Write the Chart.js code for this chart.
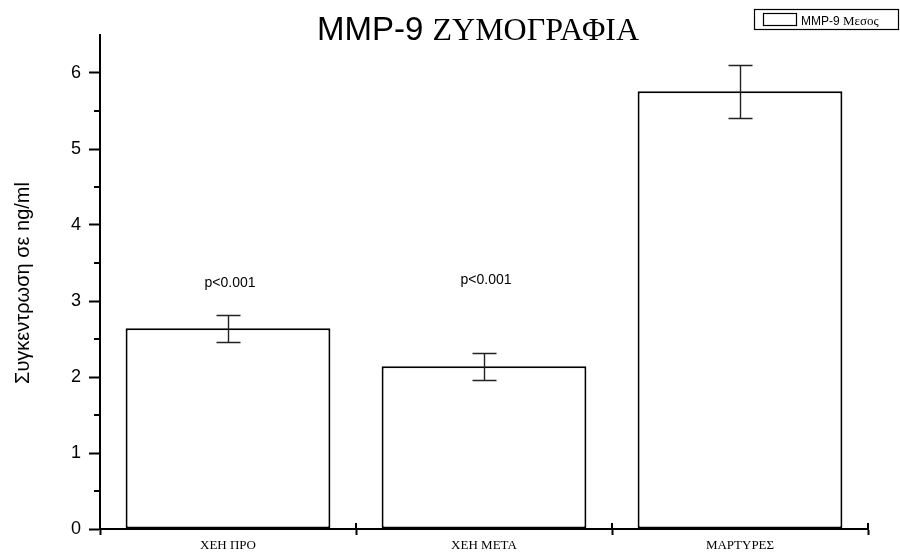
<!DOCTYPE html>
<html>
<head>
<meta charset="utf-8">
<script src="https://cdn.jsdelivr.net/npm/chart.js@4"></script>
<style>
  html, body { margin: 0; padding: 0; background: #fff; }
  #wrap { width: 900px; height: 556px; position: relative; }
</style>
</head>
<body>
<div id="wrap"><canvas id="bars"></canvas></div>
<script>
// values
const categories = ['ΧΕΗ ΠΡΟ', 'ΧΕΗ ΜΕΤΑ', 'ΜΑΡΤΥΡΕΣ'];
const means = [2.64, 2.14, 5.76];
const errors = [0.18, 0.18, 0.35];
const pLabels = ['p<0.001', 'p<0.001', ''];
const pLabelY = [3.24, 3.28, null];
const yMax = 6.5;
const yStep = 0.5;

const SANS = '"Liberation Sans", Arial, sans-serif';
const SERIF = '"Liberation Serif", "Times New Roman", serif';

// error bars, p labels, minor ticks, title, legend, y title
const extras = {
    id: 'extras',
    afterDatasetsDraw(chart) {
        const ctx = chart.ctx;
        const x = chart.scales.x, y = chart.scales.y;
        const area = chart.chartArea;
        ctx.save();

        // error bars
        ctx.strokeStyle = '#222';
        ctx.lineWidth = 1.4;
        means.forEach((m, i) => {
            const cx = Math.round(x.getPixelForValue(i)) + 0.5;
            const top = Math.round(y.getPixelForValue(m + errors[i])) + 0.5;
            const bot = Math.round(y.getPixelForValue(m - errors[i])) + 0.5;
            ctx.beginPath();
            ctx.moveTo(cx, top); ctx.lineTo(cx, bot);
            ctx.moveTo(cx - 12, top); ctx.lineTo(cx + 12, top);
            ctx.moveTo(cx - 12, bot); ctx.lineTo(cx + 12, bot);
            ctx.stroke();
        });

        // p values
        ctx.fillStyle = '#000';
        ctx.font = '14px ' + SANS;
        ctx.textAlign = 'center';
        ctx.textBaseline = 'middle';
        pLabels.forEach((t, i) => {
            if (!t) return;
            ctx.fillText(t, x.getPixelForValue(i) + 2, y.getPixelForValue(pLabelY[i]));
        });

        // minor y ticks
        ctx.strokeStyle = '#000';
        ctx.lineWidth = 2;
        ctx.beginPath();
        for (let v = yStep; v < yMax; v += 1) {
            const py = Math.round(y.getPixelForValue(v));
            ctx.moveTo(area.left - 6, py); ctx.lineTo(area.left, py);
        }
        // x boundary ticks, upper half
        for (let i = 0; i <= categories.length; i++) {
            const px = x.getPixelForValue(i - 0.5);
            ctx.moveTo(px, area.bottom - 6); ctx.lineTo(px, area.bottom);
        }
        ctx.stroke();

        // title, mixed fonts
        const t1 = 'MMP-9 ', t2 = 'ΖΥΜΟΓΡΑΦΙΑ';
        ctx.textAlign = 'left';
        ctx.textBaseline = 'alphabetic';
        ctx.font = '33px ' + SANS;
        const w1 = ctx.measureText(t1).width;
        ctx.font = '32px ' + SERIF;
        const w2 = ctx.measureText(t2).width;
        const tx = 478 - (w1 + w2) / 2;
        ctx.font = '33px ' + SANS;
        ctx.fillText(t1, tx, 40);
        ctx.font = '32px ' + SERIF;
        ctx.fillText(t2, tx + w1, 40);

        // legend box
        ctx.lineWidth = 1.2;
        ctx.strokeRect(754.5, 9.5, 144, 20);
        ctx.strokeRect(763.5, 13.5, 33, 12);
        ctx.font = '12px ' + SANS;
        ctx.fillText('MMP-9', 801, 25);
        const lw = ctx.measureText('MMP-9 ').width;
        ctx.font = '13px ' + SERIF;
        ctx.fillText('Μεσος', 801 + lw, 25);

        // y title, rotated
        ctx.translate(29, 283);
        ctx.rotate(-Math.PI / 2);
        ctx.textAlign = 'center';
        ctx.font = '20px ' + SANS;
        ctx.fillText('Συγκεντρωση σε ng/ml', 0, 0);

        ctx.restore();
    }
};

const barConfig = {
    type: 'bar',
    data: {
        labels: categories,
        datasets: [{
            label: 'MMP-9 Μεσος',
            data: means,
            backgroundColor: '#fff',
            borderColor: '#000',
            borderWidth: 2,
            borderSkipped: false,
            barPercentage: 0.8,
            categoryPercentage: 1.0,
        }],
    },
    options: {
        responsive: true,
        maintainAspectRatio: false,
        animation: false,
        layout: { padding: { top: 35, right: 32, left: 0, bottom: 0 } },
        plugins: {
            legend: { display: false },
            title: { display: false },
            tooltip: { enabled: false },
        },
        scales: {
            x: {
                afterFit: s => { s.height = 27; },
                grid: {
                    offset: true,
                    drawOnChartArea: false,
                    drawTicks: true,
                    tickLength: 6,
                    tickColor: '#000',
                    tickWidth: 2,
                },
                border: { display: true, color: '#000', width: 2 },
                ticks: {
                    color: '#000',
                    font: { family: SERIF, size: 13 },
                    padding: 3,
                    maxRotation: 0,
                },
            },
            y: {
                min: 0,
                max: yMax,
                afterFit: s => { s.width = 100; },
                grid: {
                    drawOnChartArea: false,
                    drawTicks: true,
                    tickLength: 11,
                    tickWidth: 2,
                    tickColor: c => (c.tick && Number.isInteger(c.tick.value) ? '#000' : 'rgba(0,0,0,0)'),
                },
                border: { display: true, color: '#000', width: 2 },
                ticks: {
                    stepSize: yStep,
                    color: '#000',
                    padding: 8,
                    font: { family: SANS, size: 18 },
                    callback: v => (Number.isInteger(v) ? String(v) : ''),
                },
            },
        },
    },
    plugins: [extras],
};

const barCtx = document.getElementById('bars');
window.myBars = new Chart(barCtx, barConfig);
</script>
</body>
</html>
